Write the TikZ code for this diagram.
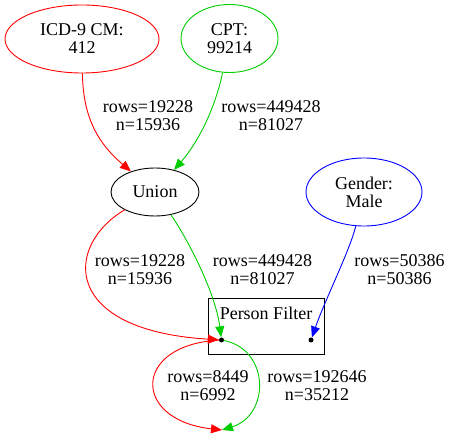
\documentclass[tikz,border=0pt]{standalone}
\usepackage{fontspec}
\setmainfont{Liberation Serif}
\usetikzlibrary{shapes.geometric,arrows.meta}
\definecolor{gvgreen}{RGB}{0,205,0}
\tikzset{
    src/.style={draw,ellipse,inner sep=0pt,align=center,line width=0.9pt},
    flow/.style={line width=0.9pt,-{Triangle[length=11pt,width=9pt]}},
    lbl/.style={align=center,inner sep=0pt},
    pin/.style={circle,fill=black,inner sep=0pt,minimum size=5pt},
}
\begin{document}
\begin{tikzpicture}[x=1pt,y=-1pt,font=\fontsize{18}{18}\selectfont]
    \useasboundingbox (0,0) rectangle (456,435);
    % sources
    \node[src,red,text=black,minimum width=154pt,minimum height=68pt] (icd) at (82,39) {ICD-9 CM:\\412};
    \node[src,gvgreen,text=black,minimum width=97pt,minimum height=68pt] (cpt) at (229.5,38.5) {CPT:\\99214};
    \node[src,minimum width=88pt,minimum height=48pt] (union) at (155,192) {Union};
    \node[src,blue,text=black,minimum width=116pt,minimum height=68pt] (gender) at (364,192) {Gender:\\Male};
    % person filter
    \node[draw,line width=0.9pt,minimum width=116pt,minimum height=56pt] (filter) at (266,326) {};
    \node[lbl] (filtertxt) at (266,313) {Person Filter};
    \node[pin] (pinL) at (221.5,340) {};
    \node[pin] (pinR) at (311,340) {};
    \coordinate (sink) at (222,430);
    % edges
    \draw[flow,red] (icd) .. controls (83,120) and (100,145) .. (union);
    \draw[flow,gvgreen] (cpt) .. controls (216,105) and (200,140) .. (union);
    \draw[flow,red] (union) .. controls (65,245) and (60,330) .. (pinL);
    \draw[flow,gvgreen] (union) .. controls (185,235) and (215,290) .. (pinL);
    \draw[flow,blue] (gender) .. controls (350,250) and (325,300) .. (pinR);
    \draw[flow,red] (pinL) .. controls (132,345) and (132,420) .. (sink);
    \draw[flow,gvgreen] (pinL) .. controls (270,350) and (270,415) .. (sink);
    % labels
    \node[lbl] (l1) at (148,116) {rows=19228\\n=15936};
    \node[lbl] (l2) at (271,116) {rows=449428\\n=81027};
    \node[lbl] (l3) at (140,270) {rows=19228\\n=15936};
    \node[lbl] (l4) at (262.5,270) {rows=449428\\n=81027};
    \node[lbl] (l5) at (399.5,270) {rows=50386\\n=50386};
    \node[lbl] (l6) at (208,386) {rows=8449\\n=6992};
    \node[lbl] (l7) at (317,386) {rows=192646\\n=35212};
\end{tikzpicture}
\end{document}
